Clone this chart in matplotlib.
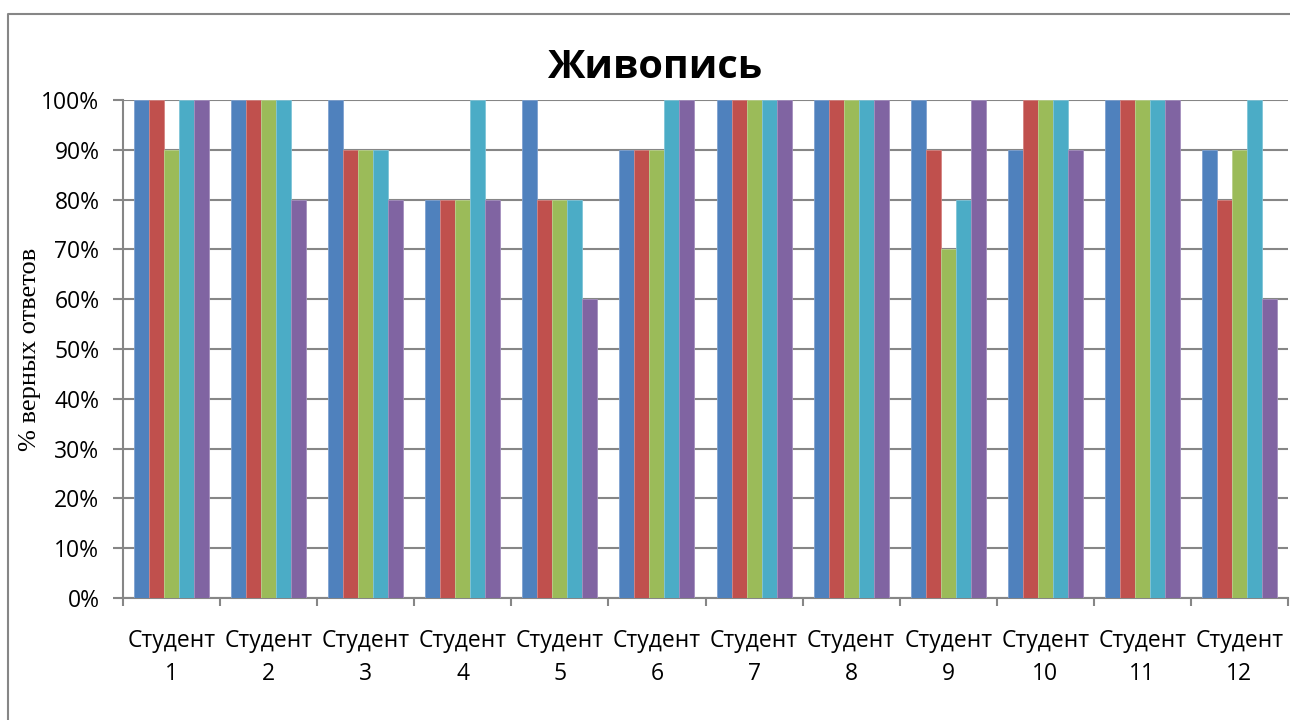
import numpy as np
import matplotlib
matplotlib.use("Agg")
from matplotlib import pyplot as plt
from matplotlib.lines import Line2D
from matplotlib.ticker import PercentFormatter, FixedLocator

# data (share of correct answers, 5 series per student)
students = [f"Студент\n{i}" for i in range(1, 13)]
series_1 = [1.0, 1.0, 1.0, 0.8, 1.0, 0.9, 1.0, 1.0, 1.0, 0.9, 1.0, 0.9]
series_2 = [1.0, 1.0, 0.9, 0.8, 0.8, 0.9, 1.0, 1.0, 0.9, 1.0, 1.0, 0.8]
series_3 = [0.9, 1.0, 0.9, 0.8, 0.8, 0.9, 1.0, 1.0, 0.7, 1.0, 1.0, 0.9]
series_4 = [1.0, 1.0, 0.9, 1.0, 0.8, 1.0, 1.0, 1.0, 0.8, 1.0, 1.0, 1.0]
series_5 = [1.0, 0.8, 0.8, 0.8, 0.6, 1.0, 1.0, 1.0, 1.0, 0.9, 1.0, 0.6]
all_series = [series_1, series_2, series_3, series_4, series_5]

colors = ["#4F81BD", "#C0504D", "#9BBB59", "#4BACC6", "#8064A2"]
edges = ["#7FA2D0", "#D58482", "#B9D08A", "#80C5D8", "#A48FBE"]
grey = "#868686"

plt.rcParams["font.family"] = ["Open Sans", "DejaVu Sans"]

fig = plt.figure(figsize=(12.9, 7.2), dpi=100)
ax = fig.add_axes([123 / 1290, 1 - 598 / 720, 1165 / 1290, 498 / 720])

x = np.arange(len(students))
w = 0.1545
for j, vals in enumerate(all_series):
    ax.bar(x + (j - 2) * w, vals, width=w, color=colors[j],
           edgecolor=edges[j], linewidth=0.6, zorder=3)

ax.set_xlim(-0.5, len(students) - 0.5)
ax.set_ylim(0, 1.0)
ax.set_yticks(np.arange(0, 1.01, 0.1))
ax.yaxis.set_major_formatter(PercentFormatter(1.0, decimals=0))
ax.grid(axis="y", color=grey, linewidth=1.5, zorder=0)
ax.set_axisbelow(True)

ax.set_xticks(x)
ax.set_xticklabels(students, linespacing=1.5)
ax.xaxis.set_minor_locator(FixedLocator(np.arange(-0.5, len(students), 1.0)))
ax.tick_params(axis="x", which="major", length=0, pad=22, labelsize=16.5)
ax.tick_params(axis="x", which="minor", length=6, width=1.5, color=grey,
               direction="out")
ax.tick_params(axis="y", length=7, width=1.5, color=grey, pad=10,
               labelsize=16.5)

for side in ["top", "right"]:
    ax.spines[side].set_visible(False)
for side in ["left", "bottom"]:
    ax.spines[side].set_color(grey)
    ax.spines[side].set_linewidth(1.5)

ax.set_ylabel("% верных ответов", family=["Liberation Serif", "DejaVu Serif"],
              fontsize=19)
ax.yaxis.set_label_coords(-82 / 1165, 0.5)

fig.text(655 / 1290, 1 - 68 / 720, "Живопись", ha="center", va="center",
         fontsize=28.5, fontweight="bold")

# outer chart frame (only left and top edges visible)
bx, by = 8 / 1290, 1 - 14 / 720
fig.add_artist(Line2D([bx, bx, 1.0], [0.0, by, by], color=grey,
                      linewidth=1.5, transform=fig.transFigure))

fig.savefig("out.png", dpi=100)
